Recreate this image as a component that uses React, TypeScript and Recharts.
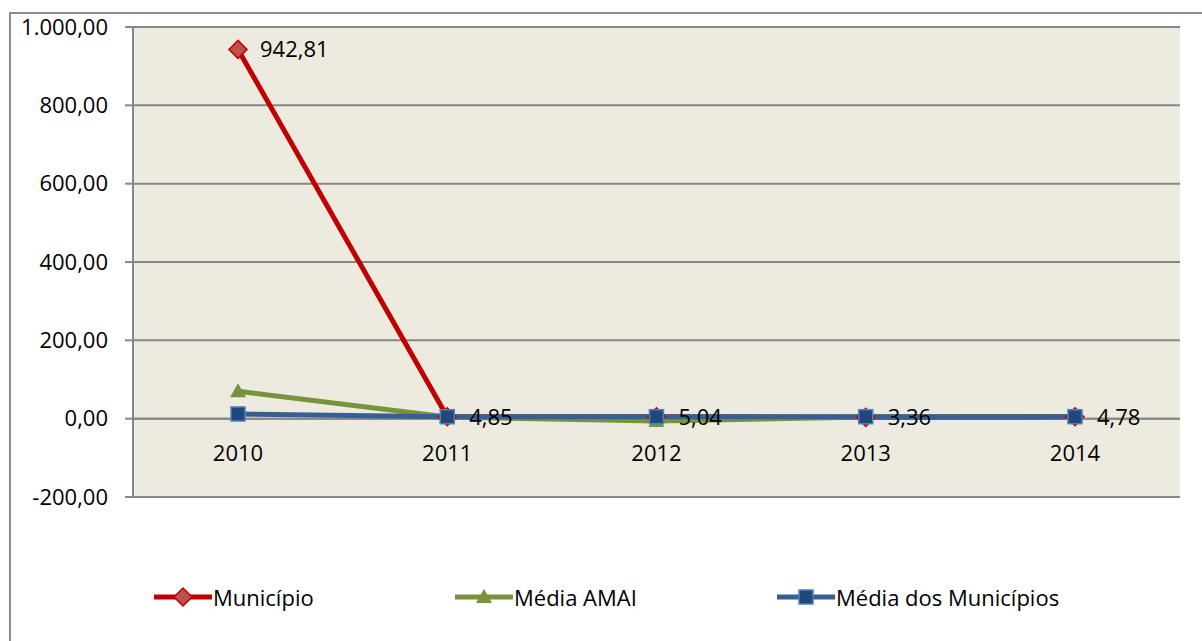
import React from "react";
import {
  LineChart,
  Line,
  XAxis,
  YAxis,
  CartesianGrid,
  ReferenceLine,
  LabelList,
} from "recharts";

const YEARS = ["2010", "2011", "2012", "2013", "2014"];
const MUNICIPIO = [942.81, 4.85, 5.04, 3.36, 4.78];
const MEDIA_AMAI = [70, 4, -6, 4, 5];
const MEDIA_MUNICIPIOS = [12, 5, 5, 5, 5];
const Y_TICKS = [-200, 0, 200, 400, 600, 800, 1000];

const data = YEARS.map((year, i) => ({
  year,
  municipio: MUNICIPIO[i],
  amai: MEDIA_AMAI[i],
  media: MEDIA_MUNICIPIOS[i],
}));

const FONT = "'Open Sans', sans-serif";
const FONT_SIZE = 22;
const GRID = "#878787";

// pt-BR style: 1.000,00
function ptNumber(v: number) {
  const [int, dec] = Math.abs(v).toFixed(2).split(".");
  const withDots = int.replace(/\B(?=(\d{3})+(?!\d))/g, ".");
  return `${v < 0 ? "-" : ""}${withDots},${dec}`;
}

const diamond = (fill: string, stroke: string) => (props: any) => {
  const { cx, cy, index } = props;
  if (cx == null || cy == null) return <g key={index} />;
  const r = 9;
  return (
    <path
      key={index}
      d={`M${cx},${cy - r}L${cx + r},${cy}L${cx},${cy + r}L${cx - r},${cy}Z`}
      fill={fill}
      stroke={stroke}
      strokeWidth={1.5}
    />
  );
};

const triangle = (fill: string) => (props: any) => {
  const { cx, cy, index } = props;
  if (cx == null || cy == null) return <g key={index} />;
  const r = 8;
  return (
    <path
      key={index}
      d={`M${cx},${cy - r}L${cx + r},${cy + r * 0.75}L${cx - r},${cy + r * 0.75}Z`}
      fill={fill}
    />
  );
};

const square = (fill: string, stroke: string) => (props: any) => {
  const { cx, cy, index } = props;
  if (cx == null || cy == null) return <g key={index} />;
  const r = 7;
  return (
    <rect
      key={index}
      x={cx - r}
      y={cy - r}
      width={r * 2}
      height={r * 2}
      fill={fill}
      stroke={stroke}
      strokeWidth={1.5}
    />
  );
};

function YearTick(props: any) {
  const { x, y, payload } = props;
  // category labels sit just under the zero line, as in the spreadsheet chart
  return (
    <text x={x} y={y - 44} textAnchor="middle" fontFamily={FONT} fontSize={FONT_SIZE} fill="#000">
      {payload.value}
    </text>
  );
}

const LEGEND_ITEMS = [
  { label: "Município", color: "#C00000", marker: "diamond", left: 154 },
  { label: "Média AMAI", color: "#77933C", marker: "triangle", left: 455 },
  { label: "Média dos Municípios", color: "#376092", marker: "square", left: 777 },
];

function ChartLegend() {
  return (
    <div style={{ position: "absolute", left: 0, top: 582, height: 30, width: 1202 }}>
      {LEGEND_ITEMS.map((it) => (
        <div
          key={it.label}
          style={{
            position: "absolute",
            left: it.left,
            top: 0,
            display: "flex",
            alignItems: "center",
            fontFamily: FONT,
            fontSize: FONT_SIZE,
            color: "#000",
          }}
        >
          <svg width={58} height={24}>
            <line x1={0} y1={12} x2={58} y2={12} stroke={it.color} strokeWidth={5} />
            {it.marker === "diamond" && (
              <path d="M29,3L38,12L29,21L20,12Z" fill="#C0504D" stroke="#C00000" strokeWidth={1.5} />
            )}
            {it.marker === "triangle" && <path d="M29,4L37,18L21,18Z" fill="#77933C" />}
            {it.marker === "square" && (
              <rect x={22} y={5} width={14} height={14} fill="#1F497D" stroke="#4F81BD" strokeWidth={1.5} />
            )}
          </svg>
          <span style={{ marginLeft: 1 }}>{it.label}</span>
        </div>
      ))}
    </div>
  );
}

export default function App() {
  return (
    <div
      style={{
        position: "fixed",
        left: 0,
        top: 0,
        width: 1202,
        height: 641,
        overflow: "hidden",
        background: "#fff",
      }}
    >
      <div
        style={{
          position: "absolute",
          left: 9,
          top: 12,
          width: 1300,
          height: 800,
          border: "2px solid #8c8c8c",
          boxSizing: "border-box",
        }}
      />
      <div style={{ position: "absolute", left: 0, top: 0 }}>
        <LineChart
          width={1202}
          height={641}
          data={data}
          margin={{ top: 27, right: 22, bottom: 114, left: 0 }}
        >
          <CartesianGrid
            vertical={false}
            stroke={GRID}
            strokeWidth={2}
            fill="#EDEADF"
            fillOpacity={1}
          />
          <XAxis
            dataKey="year"
            axisLine={false}
            tickLine={false}
            tick={<YearTick />}
            height={30}
            interval={0}
            padding={{ left: 105, right: 105 }}
          />
          <YAxis
            width={133}
            domain={[-200, 1000]}
            ticks={Y_TICKS}
            tickFormatter={ptNumber}
            axisLine={{ stroke: GRID, strokeWidth: 2 }}
            tickLine={{ stroke: GRID, strokeWidth: 2 }}
            tickSize={8}
            tickMargin={17}
            tick={{ fontFamily: FONT, fontSize: FONT_SIZE, fill: "#000" }}
          />
          <ReferenceLine y={0} stroke={GRID} strokeWidth={2} />
          <Line
            dataKey="municipio"
            stroke="#C00000"
            strokeWidth={5}
            dot={diamond("#C0504D", "#C00000")}
            isAnimationActive={false}
          >
            <LabelList
              dataKey="municipio"
              position="right"
              offset={22}
              formatter={(v: any) => ptNumber(Number(v))}
              style={{ fontFamily: FONT, fontSize: FONT_SIZE, fill: "#000" }}
            />
          </Line>
          <Line
            dataKey="amai"
            stroke="#77933C"
            strokeWidth={5}
            dot={triangle("#77933C")}
            isAnimationActive={false}
          />
          <Line
            dataKey="media"
            stroke="#376092"
            strokeWidth={5}
            dot={square("#1F497D", "#4F81BD")}
            isAnimationActive={false}
          />
        </LineChart>
      </div>
      <ChartLegend />
    </div>
  );
}
